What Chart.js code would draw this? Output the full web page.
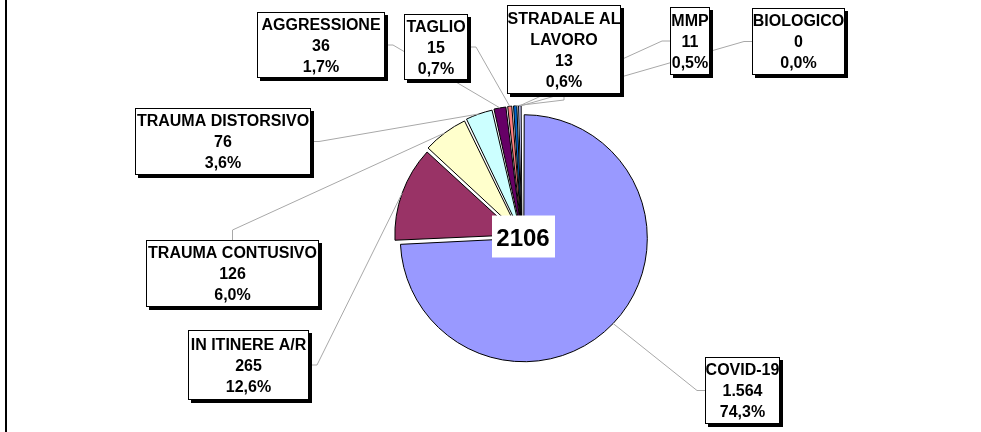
<!DOCTYPE html>
<html>
<head>
<meta charset="utf-8">
<script src="https://cdn.jsdelivr.net/npm/chart.js@4.4.0/dist/chart.umd.min.js"></script>
<style>
  html, body { margin: 0; padding: 0; background: #fff; }
  #wrap { position: relative; width: 981px; height: 432px; }
</style>
</head>
<body>
<div id="wrap"><canvas id="pieChart"></canvas></div>
<script>
// Infortuni per tipologia (slices go clockwise from 12 o'clock)
const categories = ["COVID-19", "IN ITINERE A/R", "TRAUMA CONTUSIVO", "TRAUMA DISTORSIVO", "AGGRESSIONE", "TAGLIO", ["STRADALE AL", "LAVORO"], "MMP", "BIOLOGICO"]
const values = [1564, 265, 126, 76, 36, 15, 13, 11, 0]
const sliceColors = ["#9999FF", "#993366", "#FFFFCC", "#CCFFFF", "#660066", "#FF8080", "#0066CC", "#CCCCFF", "#000080"]
const sliceOffsets = [10, 20, 20, 20, 20, 20, 20, 20, 20]

// where each label box sits and which side its leader line leaves from
const labelBoxes = [
  { x: 705, y: 357, w: 75, h: 67, side: "left" },
  { x: 188, y: 330, w: 121, h: 70, side: "right" },
  { x: 146, y: 240, w: 173, h: 67, side: "top" },
  { x: 135, y: 108, w: 176, h: 67, side: "right" },
  { x: 257, y: 12, w: 128, h: 66, side: "right" },
  { x: 404, y: 14, w: 64, h: 66, side: "right" },
  { x: 507, y: 5, w: 114, h: 89, side: "bottom" },
  { x: 670, y: 7, w: 40, h: 68, side: "left" },
  { x: 752, y: 8, w: 93, h: 67, side: "left" },
]

const total = values.reduce((a, b) => a + b, 0)
const FONT = '"Liberation Sans", Arial, Helvetica, sans-serif'

function fmtNum(v) {
  return v.toLocaleString("it-IT")
}

function fmtPct(v) {
  return (v / total * 100).toFixed(1).replace(".", ",") + "%"
}

function drawBox(ctx, b, lines, fontSize, lineH) {
  ctx.fillStyle = "#000"
  ctx.fillRect(b.x + 3, b.y + 3, b.w, b.h)
  ctx.fillStyle = "#fff"
  ctx.fillRect(b.x, b.y, b.w, b.h)
  ctx.strokeStyle = "#000"
  ctx.lineWidth = 1
  ctx.strokeRect(b.x + 0.5, b.y + 0.5, b.w - 1, b.h - 1)

  ctx.fillStyle = "#000"
  ctx.font = "bold " + fontSize + "px " + FONT
  ctx.textAlign = "center"
  ctx.textBaseline = "alphabetic"
  const cx = b.x + b.w / 2
  const start = b.y + b.h / 2 - (lines.length - 1) * lineH / 2
  lines.forEach((t, i) => {
    ctx.fillText(t, cx, start + i * lineH + fontSize * 0.36)
  })
}

const labelPlugin = {
  id: "sliceLabels",
  afterDatasetsDraw(chart) {
    const ctx = chart.ctx
    const arcs = chart.getDatasetMeta(0).data

    // frame line on the left
    ctx.save()
    ctx.fillStyle = "#000"
    ctx.fillRect(5, 0, 2, chart.height)

    // leader lines
    ctx.strokeStyle = "#a8a8a8"
    ctx.lineWidth = 1
    arcs.forEach((arc, i) => {
      const b = labelBoxes[i]
      const mid = (arc.startAngle + arc.endAngle) / 2
      const circ = arc.endAngle - arc.startAngle
      const off = sliceOffsets[i] / 4
      const shift = off * (1 + 1 - Math.sin(Math.min(Math.PI, circ)))
      const r = arc.outerRadius + shift
      const px = arc.x + Math.cos(mid) * r
      const py = arc.y + Math.sin(mid) * r

      let ax, ay, sx, sy
      if (b.side === "left") { ax = b.x; ay = b.y + b.h / 2; sx = ax - 8; sy = ay }
      else if (b.side === "right") { ax = b.x + b.w; ay = b.y + b.h / 2; sx = ax + 8; sy = ay }
      else if (b.side === "top") { ax = b.x + b.w / 2; ay = b.y; sx = ax; sy = ay - 10 }
      else { ax = b.x + b.w / 2; ay = b.y + b.h; sx = ax; sy = ay + 6 }

      ctx.beginPath()
      ctx.moveTo(ax, ay)
      ctx.lineTo(sx, sy)
      ctx.lineTo(px, py)
      ctx.stroke()
    })

    // label boxes
    arcs.forEach((arc, i) => {
      const name = categories[i]
      const lines = (Array.isArray(name) ? name : [name]).concat([fmtNum(values[i]), fmtPct(values[i])])
      drawBox(ctx, labelBoxes[i], lines, 16, 21)
    })

    // total in the middle
    const c = arcs[0]
    ctx.fillStyle = "#fff"
    ctx.fillRect(c.x - 30, c.y - 21, 63, 42)
    ctx.fillStyle = "#000"
    ctx.font = "bold 24px " + FONT
    ctx.textAlign = "center"
    ctx.textBaseline = "alphabetic"
    ctx.fillText(String(total), c.x + 1, c.y + 9)
    ctx.restore()
  }
}

new Chart(document.getElementById("pieChart"), {
  type: "pie",
  data: {
    labels: categories,
    datasets: [{
      data: values,
      backgroundColor: sliceColors,
      borderColor: "#000",
      borderWidth: 1,
      offset: sliceOffsets,
      radius: 121,
    }],
  },
  options: {
    responsive: true,
    maintainAspectRatio: false,
    animation: false,
    layout: { padding: { left: 63, right: 0, top: 41, bottom: 0 } },
    plugins: {
      legend: { display: false },
      tooltip: { enabled: false },
    },
  },
  plugins: [labelPlugin],
})
</script>
</body>
</html>
